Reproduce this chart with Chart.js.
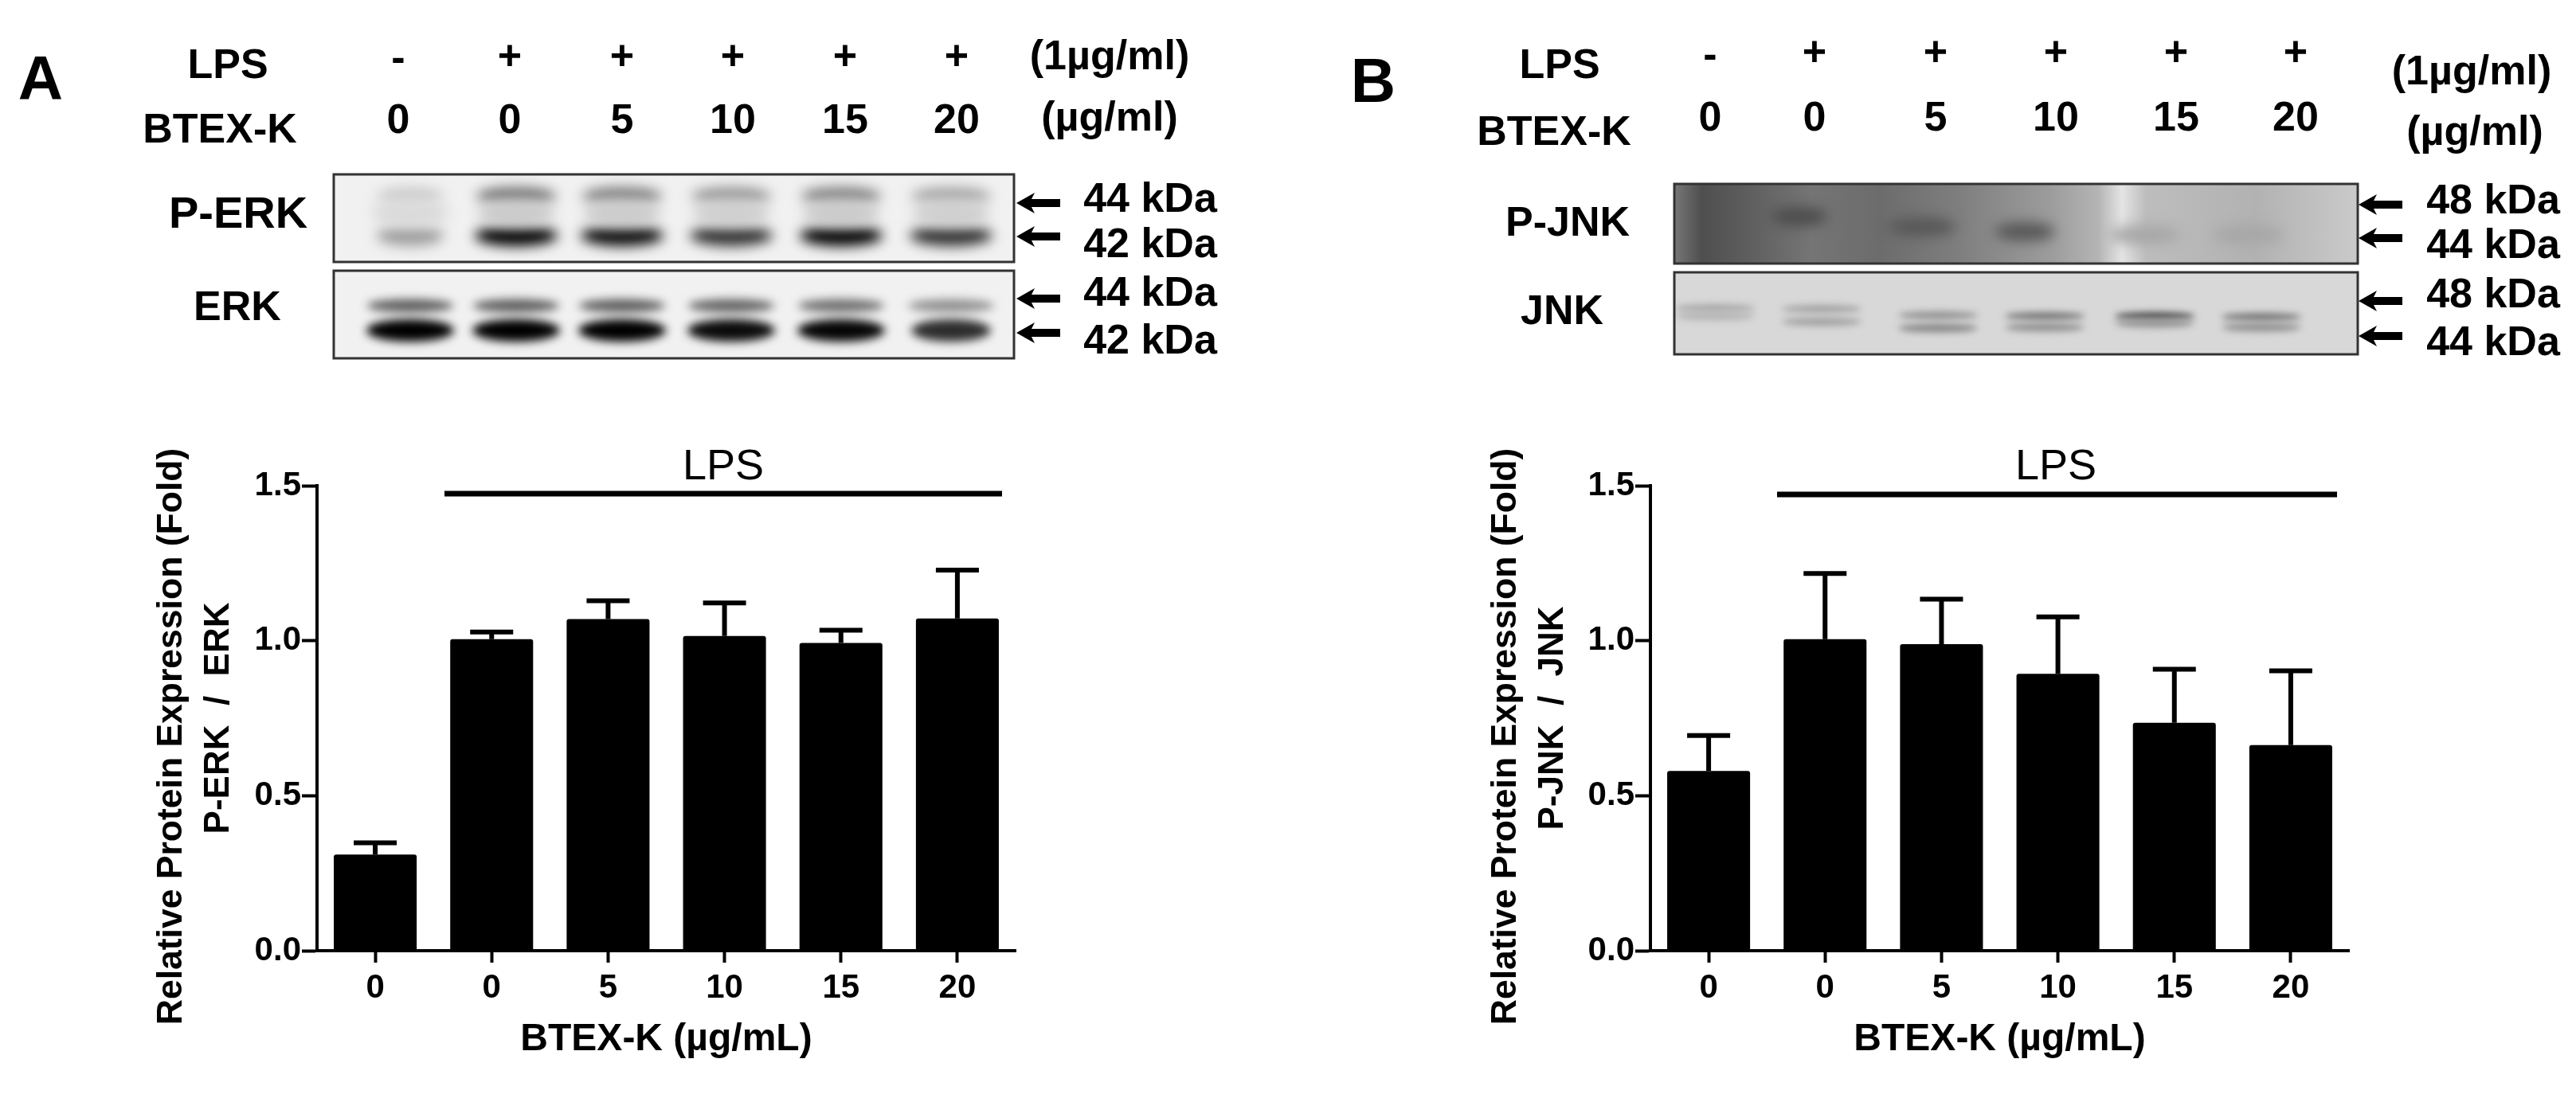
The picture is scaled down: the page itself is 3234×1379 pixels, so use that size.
<!DOCTYPE html>
<html>
<head>
<meta charset="utf-8">
<script src="https://cdn.jsdelivr.net/npm/chart.js@4"></script>
<style>
html,body{margin:0;padding:0;background:#fff;overflow:hidden}
canvas{position:absolute;top:0}
</style>
</head>
<body>
<canvas id="a" width="1617" height="1379" style="left:0"></canvas>
<canvas id="b" width="1617" height="1379" style="left:1617px"></canvas>
<script>
const categories = ['0', '0', '5', '10', '15', '20'];
const lpsRow = ['-', '+', '+', '+', '+', '+'];
const erkValues = [0.31, 1.005, 1.07, 1.015, 0.993, 1.072];
const erkErrors = [0.038, 0.023, 0.059, 0.107, 0.041, 0.156];
const jnkValues = [0.58, 1.005, 0.989, 0.893, 0.735, 0.663];
const jnkErrors = [0.114, 0.212, 0.145, 0.184, 0.173, 0.24];
const yTicks = [0, 0.5, 1, 1.5];
// band darkness per lane, read from the blots
const pErkUpper = [0.1, 0.5, 0.45, 0.34, 0.44, 0.27];
const pErkLower = [0.3, 1, 0.95, 0.78, 1, 0.78];
const erkUpper = [0.58, 0.58, 0.58, 0.55, 0.5, 0.35];
const erkLower = [1, 1, 1, 0.95, 0.98, 0.8];
const pJnkBand = [0, 0.5, 0.45, 0.45, 0.1, 0.1];
const jnkUpper = [0.2, 0.22, 0.3, 0.42, 0.62, 0.42];
const jnkLower = [0.14, 0.22, 0.34, 0.3, 0.28, 0.3];

const BOLD = '"Liberation Sans", Arial, sans-serif';
const LABEL = 'bold 52px ' + BOLD;

function txt(ctx, s, x, y, font, align) {
  ctx.font = font;
  ctx.fillStyle = '#000';
  ctx.textAlign = align || 'center';
  ctx.textBaseline = 'middle';
  ctx.fillText(s, x, y);
}
function arrow(ctx, tip, tail, y) {
  ctx.fillStyle = '#000';
  ctx.beginPath();
  ctx.moveTo(tip, y);
  ctx.lineTo(tip + 23, y - 13);
  ctx.lineTo(tip + 19, y - 5);
  ctx.lineTo(tail, y - 5);
  ctx.lineTo(tail, y + 5);
  ctx.lineTo(tip + 19, y + 5);
  ctx.lineTo(tip + 23, y + 13);
  ctx.closePath();
  ctx.fill();
}
function band(ctx, x, y, w, h, dark) {
  const v = Math.round(225 * (1 - dark));
  ctx.fillStyle = `rgb(${v},${v},${v})`;
  ctx.beginPath();
  ctx.ellipse(x, y, w / 2, h / 2, 0, 0, Math.PI * 2);
  ctx.fill();
}
function blot(ctx, r, bg, draw) {
  ctx.save();
  ctx.beginPath();
  ctx.rect(r.x, r.y, r.w, r.h);
  ctx.clip();
  ctx.fillStyle = bg(ctx);
  ctx.fillRect(r.x, r.y, r.w, r.h);
  draw();
  ctx.restore();
  ctx.strokeStyle = '#333';
  ctx.lineWidth = 3;
  ctx.strokeRect(r.x, r.y, r.w, r.h);
}

const panels = [
  {
    id: 'a', values: erkValues, errors: erkErrors, letter: 'A', areaLeft: 398, areaRight: 1275, titleX: 216, titleY: 925, sub: 'P-ERK  /  ERK', subPad: 248,
    lpsLine: [558, 1258, 620], lpsX: 908,
    draw(ctx) {
      txt(ctx, 'A', 51, 103, 'bold 78px ' + BOLD);
      txt(ctx, 'LPS', 286, 84, LABEL);
      txt(ctx, 'BTEX-K', 276, 165, LABEL);
      const hx = [500, 640, 781, 920, 1061, 1201];
      hx.forEach((x, i) => {
        txt(ctx, lpsRow[i], x, i ? 73 : 75, LABEL);
        txt(ctx, categories[i], x, 153, LABEL);
      });
      txt(ctx, '(1µg/ml)', 1393, 73, LABEL);
      txt(ctx, '(µg/ml)', 1393, 150, LABEL);
      txt(ctx, 'P-ERK', 299, 271, 'bold 56px ' + BOLD);
      txt(ctx, 'ERK', 298, 388, LABEL);
      const lx = [515, 648, 781, 918, 1056, 1194];
      const soft = () => '#f1f1f1';
      blot(ctx, {x: 419, y: 219, w: 854, h: 110}, soft, () => {
        ctx.filter = 'blur(8px)';
        lx.forEach((x, i) => {
          band(ctx, x, 246, i ? 100 : 84, 22, pErkUpper[i]);
          band(ctx, x, 296, i ? 104 : 84, 26, pErkLower[i]);
          band(ctx, x, 268, 96, 36, pErkLower[i] * 0.1);
        });
        ctx.filter = 'none';
      });
      blot(ctx, {x: 419, y: 340, w: 854, h: 110}, soft, () => {
        ctx.filter = 'blur(6px)';
        lx.forEach((x, i) => {
          band(ctx, x, 384, 108, 17, erkUpper[i]);
          band(ctx, x, 415, i === 5 ? 100 : 110, 28, erkLower[i]);
        });
        ctx.filter = 'none';
      });
      [255, 297, 375, 418].forEach(y => arrow(ctx, 1276, 1331, y));
      [[252, '44 kDa'], [309, '42 kDa'], [370, '44 kDa'], [430, '42 kDa']].forEach(p => txt(ctx, p[1], 1444, p[0], LABEL));
    }
  },
  {
    id: 'b', values: jnkValues, errors: jnkErrors, letter: 'B', areaLeft: 455, areaRight: 1332, titleX: 274, titleY: 925, sub: 'P-JNK  /  JNK', subPad: 306,
    lpsLine: [614, 1317, 621], lpsX: 964,
    draw(ctx) {
      txt(ctx, 'B', 107, 106, 'bold 78px ' + BOLD);
      txt(ctx, 'LPS', 341, 84, LABEL);
      txt(ctx, 'BTEX-K', 334, 168, LABEL);
      const hx = [530, 661, 813, 964, 1115, 1265];
      hx.forEach((x, i) => {
        txt(ctx, lpsRow[i], x, i ? 68 : 71, LABEL);
        txt(ctx, categories[i], x, 150, LABEL);
      });
      txt(ctx, '(1µg/ml)', 1486, 92, LABEL);
      txt(ctx, '(µg/ml)', 1490, 168, LABEL);
      txt(ctx, 'P-JNK', 351, 282, LABEL);
      txt(ctx, 'JNK', 344, 393, LABEL);
      const r1 = {x: 485, y: 231, w: 858, h: 100};
      blot(ctx, r1, c => {
        const g = c.createLinearGradient(r1.x, 0, r1.x + r1.w, 0);
        g.addColorStop(0, '#777777');
        g.addColorStop(0.04, '#4f4f4f');
        g.addColorStop(0.1, '#5c5c5c');
        g.addColorStop(0.2, '#757575');
        g.addColorStop(0.3, '#6c6c6c');
        g.addColorStop(0.42, '#7f7f7f');
        g.addColorStop(0.55, '#9c9c9c');
        g.addColorStop(0.62, '#b4b4b4');
        g.addColorStop(0.655, '#e4e4e4');
        g.addColorStop(0.69, '#bdbdbd');
        g.addColorStop(0.85, '#b2b2b2');
        g.addColorStop(1, '#cacaca');
        return g;
      }, () => {
        ctx.filter = 'blur(8px)';
        const bx = [530, 642, 796, 925, 1075, 1205];
        const by = [290, 272, 285, 291, 295, 295];
        const bw = [10, 70, 84, 76, 90, 90];
        bx.forEach((x, i) => { if (pJnkBand[i]) band(ctx, x, by[i], bw[i], 24, pJnkBand[i] + 0.16); });
        ctx.filter = 'none';
      });
      blot(ctx, {x: 485, y: 342, w: 858, h: 103}, () => '#d8d8d8', () => {
        ctx.filter = 'blur(4px)';
        const bx = [536, 670, 816, 950, 1088, 1222];
        const uy = [387, 388, 396, 397, 397, 398];
        const ly = [397, 404, 412, 411, 406, 411];
        bx.forEach((x, i) => {
          band(ctx, x, uy[i], 100, 10, jnkUpper[i] + 0.06);
          band(ctx, x, ly[i], 100, 11, jnkLower[i] + 0.06);
        });
        ctx.filter = 'none';
      });
      [257, 299, 378, 422].forEach(y => arrow(ctx, 1344, 1399, y));
      [[254, '48 kDa'], [310, '44 kDa'], [372, '48 kDa'], [432, '44 kDa']].forEach(p => txt(ctx, p[1], 1513, p[0], LABEL));
    }
  }
];

const decor = {
  id: 'decor',
  afterDatasetsDraw(chart, args, opts) {
    const ctx = chart.ctx, p = opts.panel;
    const xs = chart.scales.x, ys = chart.scales.y;
    ctx.save();
    ctx.strokeStyle = '#000';
    ctx.lineWidth = 6;
    p.values.forEach((v, i) => {
      const x = xs.getPixelForValue(i);
      const y0 = ys.getPixelForValue(v);
      const y1 = ys.getPixelForValue(v + p.errors[i]);
      ctx.beginPath();
      ctx.moveTo(x, y0); ctx.lineTo(x, y1);
      ctx.moveTo(x - 27, y1); ctx.lineTo(x + 27, y1);
      ctx.stroke();
    });
    ctx.restore();
  },
  afterDraw(chart, args, opts) {
    const ctx = chart.ctx, p = opts.panel;
    ctx.save();
    ctx.fillStyle = '#000';
    ctx.fillRect(p.lpsLine[0], p.lpsLine[2] - 3.5, p.lpsLine[1] - p.lpsLine[0], 7);
    txt(ctx, 'LPS', p.lpsX, 587, '54px ' + BOLD);
    ctx.translate(p.titleX, p.titleY);
    ctx.rotate(-Math.PI / 2);
    txt(ctx, 'Relative Protein Expression (Fold)', 0, 0, 'bold 44.5px ' + BOLD);
    ctx.restore();
    ctx.save();
    p.draw(ctx);
    ctx.restore();
  }
};

panels.forEach(p => {
  new Chart(document.getElementById(p.id), {
    type: 'bar',
    data: {
      labels: categories,
      datasets: [{
        data: p.values,
        backgroundColor: '#000',
        barPercentage: 0.712,
        categoryPercentage: 1,
        borderRadius: 3,
        borderSkipped: 'bottom'
      }]
    },
    options: {
      responsive: false,
      animation: false,
      devicePixelRatio: 1,
      layout: { padding: { left: 0, top: 610, right: 1617 - p.areaRight, bottom: 0 } },
      plugins: { legend: { display: false }, tooltip: { enabled: false }, decor: { panel: p } },
      scales: {
        x: {
          afterFit(s) { s.height = 185; },
          grid: { offset: false, drawOnChartArea: false, tickLength: 15, tickWidth: 4, tickColor: '#000' },
          border: { color: '#000', width: 4 },
          ticks: { color: '#000', font: { family: BOLD, size: 42, weight: 'bold' }, padding: 7, maxRotation: 0 },
          title: { display: true, text: 'BTEX-K (µg/mL)', color: '#000', font: { family: BOLD, size: 48, weight: 'bold' }, padding: { top: 0, bottom: 44 } }
        },
        y: {
          min: 0, max: 1.5,
          afterFit(s) { s.width = p.areaLeft; },
          afterBuildTicks(s) { s.ticks = yTicks.map(v => ({ value: v })); },
          grid: { drawOnChartArea: false, tickLength: 19, tickWidth: 4, tickColor: '#000' },
          border: { color: '#000', width: 4 },
          ticks: { color: '#000', font: { family: BOLD, size: 42, weight: 'bold' }, padding: 1, callback: v => Number(v).toFixed(1) },
          title: { display: true, text: p.sub, color: '#000', font: { family: BOLD, size: 44, weight: 'bold' }, padding: { top: p.subPad, bottom: 0 } }
        }
      }
    },
    plugins: [decor]
  });
});
</script>
</body>
</html>
